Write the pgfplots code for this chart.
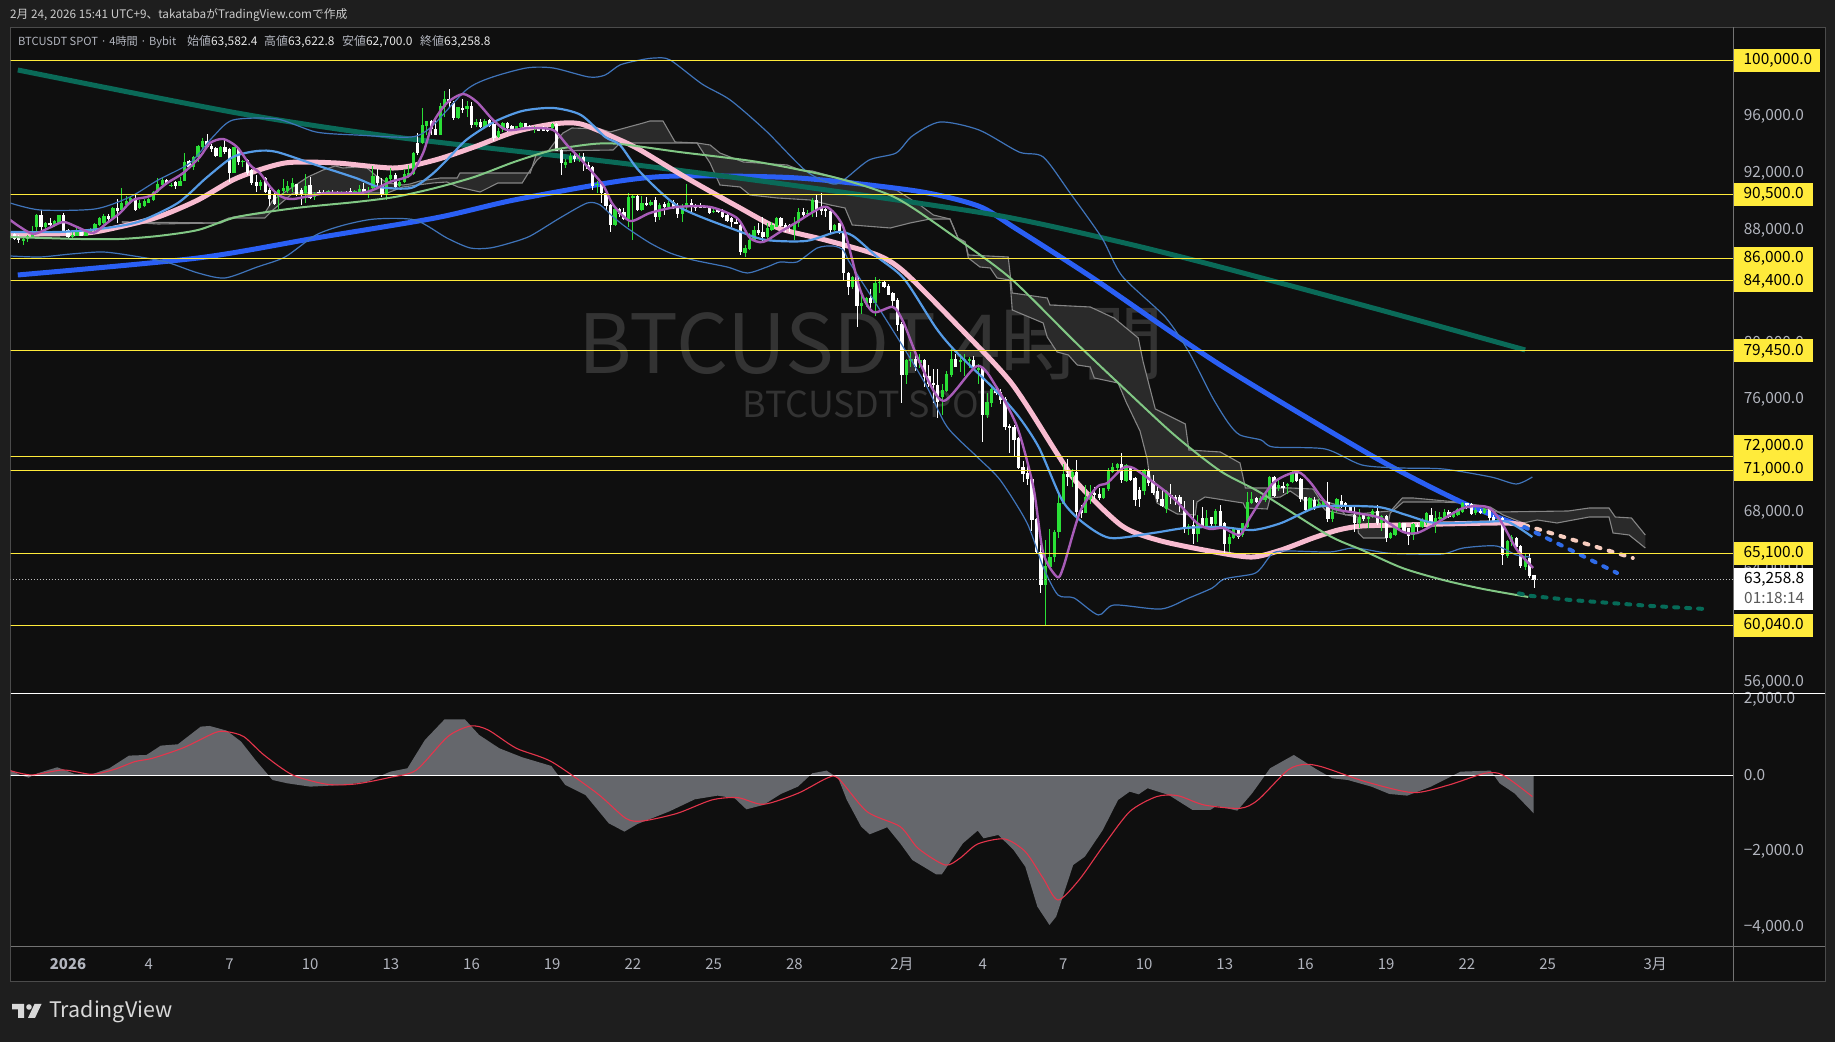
\documentclass[border=0pt]{standalone}
\usepackage{fontspec}
\setmainfont{Noto Sans CJK JP}
\usepackage{pgfplots}
\usepackage{pgfplotstable}
\pgfplotsset{compat=1.18}
\pgfplotsset{ml/.style={smooth,tension=0.45,forget plot}}
\definecolor{pagebg}{HTML}{1E1E1E}
\definecolor{panelbg}{HTML}{0F0F0F}
\definecolor{cgreen}{HTML}{2ADF36}
\definecolor{ylw}{HTML}{FFEB3B}
\definecolor{tk}{HTML}{B2B5BE}
\definecolor{dkgreen}{HTML}{0A6A58}
\definecolor{thblue}{HTML}{2A5FF5}
\definecolor{pinkma}{HTML}{F8BBD0}
\definecolor{greenma}{HTML}{81C784}
\definecolor{skyma}{HTML}{559BE6}
\definecolor{bbblue}{HTML}{3F74BA}
\definecolor{purp}{HTML}{A85CB8}
\definecolor{cloudl}{HTML}{858585}
\definecolor{cloudf}{HTML}{2A2A2A}
\definecolor{wm}{HTML}{333333}
\definecolor{hist}{HTML}{65676C}
\definecolor{sig}{HTML}{E5354C}
\definecolor{pkdash}{HTML}{F7CDBF}
\definecolor{bldash}{HTML}{2F6BE8}
\definecolor{grdash}{HTML}{066B58}

\pgfplotstableread{
k h t b l
-13 88210 87700 87300 86938
-10 87529 87387 87246 86916
-9 87646 87599 87340 87175
-8 88283 87717 87482 87482
-7 89131 89060 88236 87953
-5 88589 88518 88188 88047
-3 88707 88660 88353 88236
-2 89060 89037 88518 88518
1 87882 87646 87529 87340
2 88118 87882 87576 87576
4 88000 87882 87599 87576
5 88118 88047 87882 87811
6 88471 88424 88000 87953
7 88896 88872 88353 88283
8 89108 88990 88471 88424
10 89603 89556 88825 88754
12 90946 89933 89414 89367
13 90404 90051 89791 89603
14 90404 90286 89886 89838
16 90121 89909 89532 89461
17 90168 90074 89697 89650
18 90239 90168 89933 89886
19 90781 90687 90121 90074
20 91653 91229 90663 90593
21 91771 91535 91182 91111
23 91300 91182 91135 91017
25 91771 91488 91135 91111
26 93468 92832 91488 91441
28 93232 93185 92431 92243
29 94010 93940 93138 92832
30 94482 94317 93845 93704
34 93940 93892 93185 93138
37 93845 93845 92054 92007
39 92950 92879 92832 92478
43 91536 91418 91112 90829
47 90876 90829 90310 89462
48 91583 90947 90758 90475
49 91489 91112 90758 90593
50 91654 91300 91017 90711
53 91960 91112 90593 89886
55 90711 90475 90357 90122
58 90829 90782 90687 90546
61 90782 90711 90664 90593
64 90829 90758 90664 90546
65 91182 90876 90664 90546
67 91017 90758 90640 90240
68 92526 91819 90947 90829
71 91771 91654 90475 90122
72 92361 91889 91583 91418
74 91536 91418 91112 91017
75 92290 91960 91418 91300
76 92597 92055 91772 91654
77 93540 93469 91960 91889
79 96604 95425 94129 94082
80 95731 95708 95378 94718
83 96957 96769 94718 94718
84 97853 97263 96721 96014
87 96721 96674 95896 95826
89 97146 96769 96533 96014
91 95826 95661 95425 95307
93 95826 95731 95307 95236
96 95189 95024 94553 94482
97 95661 95590 95119 94954
100 95377 95354 95071 95024
101 95636 95589 95259 95212
104 95354 95307 95118 94882
108 95542 95495 95189 95118
111 92997 92832 92596 92360
112 93421 93232 92761 92714
114 93421 93138 93044 92832
118 91488 91253 91205 90640
122 89532 89461 88353 88283
125 90593 90357 88754 88235
126 90475 90404 90310 87293
128 90404 89885 89414 89367
130 90121 90003 89768 89697
132 89885 89768 88896 88707
134 90074 89933 89603 89461
137 89838 89650 89131 88589
138 91253 89933 89650 89296
144 89461 89367 89296 89226
151 86939 86703 86397 86114
152 87764 87293 86633 86586
153 88283 88000 87293 87246
156 88471 88118 87528 87293
157 88589 88353 88000 87953
158 88896 88825 88235 88188
162 88896 88471 88000 87293
163 89532 89296 88471 88235
165 89414 89226 89131 88943
166 90239 90121 89226 88943
171 88424 88353 88000 87953
175 84746 84699 83945 83803
177 83403 82813 82625 82059
178 83285 83167 82813 82530
180 84652 84228 82860 81918
181 84510 84345 84298 83520
187 78854 78807 77769 77109
188 79396 78854 78807 78288
190 79231 78807 78571 78217
195 77109 76685 76214 74917
196 78052 77817 76638 76567
197 79561 78854 77746 77628
199 79231 78807 78689 77981
200 79231 78854 78783 77675
201 78995 78854 78783 78217
203 78524 78217 78099 77109
205 76496 75860 74917 74682
206 77039 76732 75789 75507
218 66079 64240 62897 60068
219 66833 64853 64193 64193
220 66786 66668 64853 64547
221 69261 68671 66668 66196
222 71453 70746 68624 68624
224 71076 70910 70510 69803
227 69966 69141 68010 67963
228 69966 69377 68953 68623
231 69777 69730 69023 68953
232 71145 70980 69660 69565
233 71545 71215 70909 70791
234 71545 71451 71145 70909
236 71451 71380 70272 70202
240 71074 70980 69565 69259
245 69613 69565 68246 67963
250 67208 67067 66973 66431
252 67845 67208 66501 65959
254 68198 67656 67020 66902
256 68246 68151 67208 66973
259 66501 66266 65794 65252
260 66973 66831 66195 66124
262 67303 67255 66431 66313
263 69495 68788 66973 66902
264 69495 68953 68670 68623
266 69188 69023 68835 68670
267 69424 69330 68905 68788
268 70602 70555 69141 69094
270 70320 69966 69730 69565
272 70131 70037 69895 69330
273 71027 70909 70202 70131
277 69141 69023 68246 68198
279 68952 68622 68433 68315
280 68905 68810 68551 68480
282 68315 68080 67537 67373
283 69022 68952 68198 68080
288 68245 67726 67302 66901
290 67844 67679 67608 66901
291 68245 68150 67679 67608
293 67844 67773 67255 66736
295 66666 66548 66194 66123
296 67019 66901 66430 66359
297 67373 67302 66901 66854
300 67302 67208 66430 66076
302 67608 67490 67019 66901
303 68080 68009 67255 67137
305 68150 67608 67255 66548
306 68080 67726 67537 67255
307 68245 68080 67608 67537
309 68150 67962 67679 67608
310 68315 68245 67844 67773
311 68787 68716 68080 68009
314 68315 68198 68009 67844
316 68315 68245 67962 67915
319 67773 67726 67443 67373
321 66076 66029 64945 64780
322 66430 66265 65958 65652
325 65086 64709 64191 63955
}\upc

\pgfplotstableread{
k h t b l
-12 87953 87717 87340 87293
-11 87646 87529 87293 87104
-6 89414 89060 88236 87953
-4 88825 88471 88377 88118
-1 89226 89060 87929 87811
0 88047 88000 87482 87411
3 87882 87858 87599 87576
9 89131 89013 88801 88589
11 90192 89556 89367 88518
15 90475 90286 89414 89343
22 91582 91535 91253 91182
24 91465 91394 91111 90899
27 92950 92902 92431 92290
31 94765 94317 93892 93798
32 94081 93940 93704 93515
33 93892 93822 93232 93138
35 94482 93845 93539 93374
36 93775 93704 92054 91417
38 93775 93775 92832 92596
40 92997 92950 92007 91889
41 92290 92243 91347 91182
42 91889 91417 91111 90710
44 91725 91654 90711 90593
45 90947 90829 90169 89698
46 90593 90475 89839 89768
51 91253 91253 90475 90405
52 90947 90829 90546 89768
54 91771 91182 90287 90169
56 90829 90711 90640 90475
57 90829 90687 90640 90546
59 90829 90711 90640 90546
60 90782 90711 90640 90546
62 90782 90711 90640 90593
63 90947 90782 90640 90546
66 91300 90900 90640 90546
69 92290 91819 91300 91065
70 91654 91112 90475 90357
73 92007 91889 91065 90947
78 94836 94176 93469 93304
81 95779 95731 95119 94718
82 95779 95119 94718 94718
85 97947 97263 96957 96721
86 97146 97004 95896 95779
88 97240 96604 96533 96297
90 97075 96769 95425 95236
92 95826 95661 95307 95236
94 95826 95779 95378 95260
95 95826 95496 94482 94317
98 95661 95543 95189 94954
99 95424 95354 95071 95024
102 95589 95542 95259 95212
103 95424 95354 95259 95212
105 95307 95189 95024 95024
106 95354 95165 95024 94977
107 95307 95189 95024 94929
109 95589 95495 93609 93562
110 93704 93657 92714 91889
113 93421 93232 93044 92832
115 93421 93185 92832 92195
116 92832 92596 92289 92242
117 92525 92478 91111 90828
119 91347 91253 90640 89933
120 90710 90640 89697 89367
121 89838 89768 88353 87882
123 89532 89485 89131 88943
124 89532 89296 88754 88707
127 90475 90404 89414 89367
129 90310 89933 89768 89697
131 90310 90121 88943 88589
133 90003 89838 89603 89061
135 90121 90003 89532 89461
136 89885 89697 89131 88825
139 90168 89933 89603 89296
140 89838 89697 89603 89367
141 89885 89650 89603 89532
142 89697 89650 89603 89532
143 89697 89579 89178 89131
145 89532 89414 89273 89178
146 89461 89296 88896 88825
147 89131 89061 88636 88589
148 88896 88872 88589 88188
149 88896 88589 88424 88424
150 88401 88353 86468 86232
154 88471 88000 87764 87646
155 88896 87882 87528 87246
159 88943 88825 88283 88235
160 88471 88353 88047 87882
161 88424 88353 88283 87882
164 89532 89296 89061 88943
167 90545 90121 89414 88896
168 90593 89532 89367 89061
169 89650 89461 89367 88943
170 89414 89367 88000 87717
172 88518 88471 87811 87717
173 88235 87882 84936 84464
174 85053 84935 83992 83402
176 84746 84699 82625 81163
179 83803 83167 82813 82460
182 84369 84322 83945 83874
183 84180 84039 83426 83379
184 83638 83520 82978 82625
185 83167 83049 81281 80881
186 81517 81352 77769 75790
189 79231 78854 78288 78052
191 78854 78807 77628 76874
192 78453 77675 77109 76921
193 78146 77204 77015 75742
194 78146 77039 75860 74682
198 79231 78854 78335 78288
202 79089 78807 78217 78099
204 78335 78217 74917 73032
207 76874 76732 76449 76332
208 76732 76567 75978 75695
209 76214 76025 74045 73857
210 74281 74139 73975 72207
211 74210 74045 73150 72018
212 73338 73268 71146 71075
213 71688 71217 70746 70203
214 71453 70793 70368 69968
215 70439 70368 67493 66739
216 67611 67540 65254 65183
217 65725 65254 62897 62355
223 71783 70746 70557 69897
225 71736 70910 68082 67729
226 68552 68198 68010 67609
229 69801 69424 69259 68953
230 69730 69330 69023 68905
235 72252 71451 70320 70084
237 71310 71145 70320 70272
238 70508 70437 68905 68481
239 69801 69613 68953 68434
241 71074 70980 70131 69895
242 70673 70272 69424 69259
243 69966 69565 68953 68788
244 69613 68953 68481 68434
246 70037 69259 69094 68623
247 69259 69141 68905 68552
248 69259 69094 68623 68081
249 68858 68198 66902 66548
251 68905 67138 66501 65794
253 68434 67609 66973 66902
255 67727 67680 67208 66831
257 68552 68151 67067 67020
258 67373 67255 65794 65134
261 66902 66784 66313 66124
265 69141 69023 68788 68717
269 70602 70555 69188 69141
271 70202 69895 69801 69424
274 70980 70909 70272 70202
275 70437 70367 68953 68788
276 69141 69094 68198 68151
278 69093 68905 68433 68198
281 70201 68787 67537 67373
284 69258 68857 68433 68315
285 68787 68669 68386 68198
286 68551 68433 68080 67962
287 68433 67844 67302 66666
289 67962 67844 67537 67443
292 68551 68150 67302 67137
294 67844 67773 66194 65958
298 67302 67255 66666 66595
299 66901 66901 66359 65723
301 67255 67137 67019 66666
304 68315 67844 67302 67137
308 68198 68080 67726 67608
312 68716 68669 68551 68245
313 68716 68622 67915 67844
315 68245 68103 68033 67915
317 68315 68245 67608 67302
318 67844 67726 67373 67255
320 67679 67608 65015 64308
323 66265 66194 65558 65487
324 65723 65652 64238 64073
326 65086 64780 63531 63366
327 63622.8 63582.4 63258.8 62700
}\dnc

\newcommand{\hl}[2]{\addplot[ylw,line width=1.1bp,forget plot] coordinates {(-13,#1)(372,#1)};
  \coordinate (#2) at (axis cs:371.5,#1);}
% #1 coordinate, #2 text, #3 box width, #4 vertical shift
\newcommand{\ylab}[4]{\node[anchor=west,fill=ylw,text=black,minimum height=23bp,inner ysep=0pt,inner xsep=0pt,font=\fontsize{15.5}{18}\selectfont] at ([xshift=0.3bp,yshift=#4]#1) {\hspace{9.5bp}\makebox[#3][l]{#2}};}

\begin{document}
\begin{tikzpicture}
\fill[pagebg] (0,0) rectangle (1835bp,1042bp);
\useasboundingbox (0,0) rectangle (1835bp,1042bp);
\fill[panelbg,draw=pagebg!80!white] (10bp,60.5bp) rectangle (1825bp,1015bp);

\begin{axis}[
  at={(10.5bp,348.7bp)},anchor=south west,scale only axis,width=1723.1bp,height=666.3bp,
  xmin=-12.83,xmax=371.5,ymin=55234,ymax=102355,
  xtick=\empty,
  ytick={96000,92000,88000,80000,76000,68000,64000,56000},
  yticklabels={{96,000.0},{92,000.0},{88,000.0},{80,000.0},{76,000.0},{68,000.0},{64,000.0},{56,000.0}},
  yticklabel pos=right,scaled y ticks=false,
  y tick label style={anchor=west,inner sep=0pt,xshift=10bp,text=tk,font=\fontsize{15.5}{18}\selectfont},
  major tick length=0pt,axis line style={draw=none},tick style={draw=none},
]
\node[text=wm,font=\fontsize{82}{90}\selectfont] at (axis cs:179.1,80078) {BTCUSDT 4時間};
\node[text=wm,font=\fontsize{36}{40}\selectfont] at (axis cs:179.1,75695) {BTCUSDT SPOT};

% Ichimoku cloud: polygon of span P then span Q reversed
\addplot[fill=cloudf,draw=none,forget plot] coordinates {
(12,88565)(34.1,88494)(36.8,88918)(43.9,89201)(45.7,90120)(53.5,91747)(56.9,92242)(59.6,92525)(61.3,92383)(64.5,92454)(66.7,92383)(68.5,91888)(71.2,91323)(74.7,91181)(76.3,91252)(78.5,91464)(83,91676)(86.8,91676)(87.4,92030)(103.1,92030)(104.6,93515)(107.1,93586)(108.6,94222)(110.4,94859)(112.4,95212)(118.7,95142)(120.9,94929)(128.3,95566)(129.8,95707)(132.7,95707)(135.4,94222)(140.3,94152)(143.2,94010)(145.4,93444)(150.6,92808)(160.4,92596)(163.3,92242)(166,92171)(172.4,91606)(184.7,90828)(190,89767)(193,89060)(196.7,88777)(198.5,87433)(200.1,87150)(200.8,86231)(209.7,86089)(210.6,83543)(218.4,83190)(219,82695)(228,82553)(233.3,81775)(238.7,80361)(239.8,78664)(242.5,75340)(249.2,74279)(250,72440)(257,72299)(261.4,71521)(262.6,69753)(272.6,69753)(277.7,69682)(279.3,68904)(283.1,68551)(284.9,67844)(294.9,68126)(295.6,68339)(297.6,69046)(300,69046)(309.8,68763)(318.8,68056)(334.6,68126)(339.3,68339)(343.7,68339)(345.1,67702)(348.7,67631)(351.8,66429)
(351.8,65510)(348.2,66429)(344.6,66571)(343.7,67702)(339.3,67702)(332.1,67278)(327.7,67490)(324.6,67278)(320.1,67844)(317.2,68409)(311.2,68692)(306,68763)(297.8,68763)(294.9,67985)(293.8,66217)(288.9,66217)(287.8,66571)(287.5,67702)(283.1,67985)(280.4,68197)(278.6,68904)(275.5,68904)(272.6,69541)(270.4,69117)(268.1,69046)(267.5,68268)(262.6,68339)(262.1,68692)(259.2,68834)(253.6,69117)(251.8,68763)(251.4,67844)(247.4,67914)(242.9,68692)(241.1,70884)(240.7,71803)(239.1,73783)(236,75834)(234.2,77178)(228.9,77533)(228,78311)(225.1,78453)(223.1,79160)(220.6,79372)(218.4,80432)(217.5,81422)(210.6,82342)(210.1,84463)(207.2,84605)(205.7,85312)(203.4,85383)(200.8,86019)(200.1,87150)(198.5,87433)(196.7,88777)(192.3,88777)(187.8,88494)(183.4,88140)(174.9,88353)(173.3,89555)(170,89767)(165.5,90121)(158.2,90262)(152.1,90474)(149.9,91040)(145.4,91181)(143.2,92737)(141,93798)(140.3,94152)(123.1,94152)(121.6,93656)(107.1,93586)(104.6,92949)(103.1,92242)(101.3,91323)(95.9,91323)(91.9,90687)(87,91040)(84.5,91394)(81.4,91323)(74.7,91040)(71.2,90616)(50.2,90616)(45.7,89414)(43.9,88848)(35.9,88848)(33.2,88494)(20.1,88423)} -- cycle;
\addplot[cloudl,line width=1.1bp,forget plot] coordinates {
(12,88565)(34.1,88494)(36.8,88918)(43.9,89201)(45.7,90120)(53.5,91747)(56.9,92242)(59.6,92525)(61.3,92383)(64.5,92454)(66.7,92383)(68.5,91888)(71.2,91323)(74.7,91181)(76.3,91252)(78.5,91464)(83,91676)(86.8,91676)(87.4,92030)(103.1,92030)(104.6,93515)(107.1,93586)(108.6,94222)(110.4,94859)(112.4,95212)(118.7,95142)(120.9,94929)(128.3,95566)(129.8,95707)(132.7,95707)(135.4,94222)(140.3,94152)(143.2,94010)(145.4,93444)(150.6,92808)(160.4,92596)(163.3,92242)(166,92171)(172.4,91606)(184.7,90828)(190,89767)(193,89060)(196.7,88777)(198.5,87433)(200.1,87150)(200.8,86231)(209.7,86089)(210.6,83543)(218.4,83190)(219,82695)(228,82553)(233.3,81775)(238.7,80361)(239.8,78664)(242.5,75340)(249.2,74279)(250,72440)(257,72299)(261.4,71521)(262.6,69753)(272.6,69753)(277.7,69682)(279.3,68904)(283.1,68551)(284.9,67844)(294.9,68126)(295.6,68339)(297.6,69046)(300,69046)(309.8,68763)(318.8,68056)(334.6,68126)(339.3,68339)(343.7,68339)(345.1,67702)(348.7,67631)(351.8,66429)};
\addplot[cloudl,line width=1.1bp,forget plot] coordinates {
(12,88565)(20.1,88423)(33.2,88494)(35.9,88848)(43.9,88848)(45.7,89414)(50.2,90616)(71.2,90616)(74.7,91040)(81.4,91323)(84.5,91394)(87,91040)(91.9,90687)(95.9,91323)(101.3,91323)(103.1,92242)(104.6,92949)(107.1,93586)(121.6,93656)(123.1,94152)(140.3,94152)(141,93798)(143.2,92737)(145.4,91181)(149.9,91040)(152.1,90474)(158.2,90262)(165.5,90121)(170,89767)(173.3,89555)(174.9,88353)(183.4,88140)(187.8,88494)(192.3,88777)(196.7,88777)(198.5,87433)(200.1,87150)(200.8,86019)(203.4,85383)(205.7,85312)(207.2,84605)(210.1,84463)(210.6,82342)(217.5,81422)(218.4,80432)(220.6,79372)(223.1,79160)(225.1,78453)(228,78311)(228.9,77533)(234.2,77178)(236,75834)(239.1,73783)(240.7,71803)(241.1,70884)(242.9,68692)(247.4,67914)(251.4,67844)(251.8,68763)(253.6,69117)(259.2,68834)(262.1,68692)(262.6,68339)(267.5,68268)(268.1,69046)(270.4,69117)(272.6,69541)(275.5,68904)(278.6,68904)(280.4,68197)(283.1,67985)(287.5,67702)(287.8,66571)(288.9,66217)(293.8,66217)(294.9,67985)(297.8,68763)(306,68763)(311.2,68692)(317.2,68409)(320.1,67844)(324.6,67278)(327.7,67490)(332.1,67278)(339.3,67702)(343.7,67702)(344.6,66571)(348.2,66429)(351.8,65510)};

% 200 MA
\addplot[thblue,line width=5bp,ml] coordinates {
(-11.2,84817)(29,86019)(55.3,87433)(81.9,88847)(99.5,90121)(123.1,91464)(136.3,91818)(162.8,91676)(189.2,90757)(203,89700)(211.2,88140)(228.9,84533)(257,78451)(291.3,71945)(311.2,68692)(324.8,66995)};
% 400 MA
\addplot[dkgreen,line width=5bp,ml] coordinates {
(-11.2,99314)(37.7,96273)(72.9,94576)(123.1,92737)(162.8,91110)(206.8,89060)(234.7,87150)(257,85382)(292.7,82342)(325,79514)};
% 50 MA
\addplot[pinkma,line width=5bp,ml] coordinates {
(-12.9,87646)(-6.2,87717)(4.2,87787)(11.4,88211)(20.1,88919)(29,90121)(37.7,91676)(48.4,92737)(59.8,92737)(72.9,92383)(81.9,92949)(90.6,93870)(99.5,94929)(108.2,95495)(114.4,95495)(123.1,94364)(127.6,93656)(138,91676)(149.5,89626)(158.4,88140)(168.9,87292)(180.5,86231)(186.5,85029)(198.1,81351)(210.4,77178)(220.8,72087)(225.3,70036)(235.1,67065)(243.8,66005)(257,65156)(264.3,64873)(270.6,65369)(277.7,66217)(283.3,66783)(288.6,67065)(297.6,67136)(306.7,67207)(320.3,67278)(324.8,67136)};

% candles
\addplot[draw=none,forget plot,error bars/.cd,y dir=both,y explicit,error mark=none,error bar style={line width=1bp,color=cgreen}]
  table[x=k,y expr={(\thisrow{h}+\thisrow{l})/2},y error expr={(\thisrow{h}-\thisrow{l})/2}] {\upc};
\addplot[draw=none,forget plot,error bars/.cd,y dir=both,y explicit,error mark=none,error bar style={line width=3.3bp,color=cgreen}]
  table[x=k,y expr={(\thisrow{t}+\thisrow{b})/2},y error expr={(\thisrow{t}-\thisrow{b})/2}] {\upc};
\addplot[draw=none,forget plot,error bars/.cd,y dir=both,y explicit,error mark=none,error bar style={line width=1bp,color=white}]
  table[x=k,y expr={(\thisrow{h}+\thisrow{l})/2},y error expr={(\thisrow{h}-\thisrow{l})/2}] {\dnc};
\addplot[draw=none,forget plot,error bars/.cd,y dir=both,y explicit,error mark=none,error bar style={line width=3.3bp,color=white}]
  table[x=k,y expr={(\thisrow{t}+\thisrow{b})/2},y error expr={(\thisrow{t}-\thisrow{b})/2}] {\dnc};

% Bollinger upper / lower
\addplot[bbblue,line width=1.2bp,ml] coordinates {
(-12.9,89907)(-6.2,89413)(6,89484)(13.8,90333)(20.1,91535)(27.2,92737)(32.3,94576)(36.8,95778)(46.6,95849)(55.3,94929)(64.2,94717)(76.5,94576)(81,95283)(88.8,97900)(94.1,98752)(102.2,99455)(108.2,99455)(116.2,98817)(119.8,98959)(123.1,99667)(127.6,100021)(130.9,100163)(134.3,100021)(141.4,98324)(147.7,97192)(155.7,95000)(164.6,92170)(170.6,91254)(173.3,91607)(178.7,92949)(184.7,93445)(188.3,94646)(194.5,95636)(203.2,95070)(212.1,93515)(217.5,93161)(223.5,90616)(230.6,87433)(235.1,84746)(244.7,81846)(250,79372)(255.2,76189)(258.8,74350)(261.4,73501)(266.1,73147)(268.8,72652)(280.4,72511)(288.6,71379)(297.6,71167)(306.7,71097)(317.4,70531)(323,70036)(326.6,70531)};
\addplot[bbblue,line width=1.2bp,ml] coordinates {
(-12.9,86160)(-6.2,86090)(0.7,86302)(7.8,86443)(14.7,86160)(21.9,85736)(29,84958)(35,84605)(42.2,85383)(48.4,86090)(55.3,87646)(61.6,88353)(68.5,88777)(77.4,88706)(84.5,87433)(89.7,86726)(94.1,86726)(98.6,87079)(103.1,87575)(109.7,88847)(115.8,89907)(118.7,89766)(121.6,88919)(124.7,88140)(129.8,87079)(134.3,86372)(139.4,85877)(147,85383)(151.5,84958)(155.9,85383)(158.8,85736)(162.6,85736)(167.1,86726)(170.6,86868)(172.9,86585)(174.4,85665)(181.1,82341)(186.7,79512)(191.6,76896)(196.1,74067)(202.8,71945)(207.9,70319)(213.9,67278)(217.5,64166)(220.8,62186)(224.4,61974)(229.8,60772)(233.3,61479)(243.8,61196)(250,61974)(255.2,62681)(257.9,63318)(264.3,63671)(266.1,64096)(268.8,65157)(272.4,65298)(281.5,65228)(286.9,65511)(294,65157)(299.6,65086)(306.7,65086)(311.2,65511)(318.5,65653)(323,65016)(326.1,64873)};
% 100 MA
\addplot[greenma,line width=2bp,ml] coordinates {
(-12.9,87504)(2.5,87363)(11.6,87363)(20.1,87575)(29,87999)(37.7,88919)(50.9,89555)(64.2,89979)(72.9,90333)(81.9,90969)(90.6,91747)(99.5,92808)(108.2,93656)(117.1,94081)(123.1,94081)(136.3,93515)(153.9,92808)(171.5,91676)(184.7,90262)(198.1,87433)(210.4,84534)(224.4,80149)(233.3,77461)(246.5,73571)(257,70955)(266.1,69400)(281,66429)(288.6,65369)(297.6,64096)(306.7,63247)(315.6,62611)(325.7,62045)};
% 20 MA
\addplot[skyma,line width=2.2bp,ml] coordinates {
(-12.9,87858)(-2,87858)(6.9,88070)(15.6,88565)(24.5,89909)(30.8,91676)(36.8,93161)(42.2,93586)(46.6,93515)(55.3,92595)(64.2,91676)(69.4,91040)(76.5,90969)(81,91888)(84.5,92949)(88.8,94364)(95,95636)(101.3,96414)(108.2,96627)(114.4,96132)(119.8,94576)(123.1,94010)(127.6,92099)(136.3,89626)(149.5,87929)(155.7,87292)(164.6,87221)(171.5,87858)(175.1,87575)(180.5,86090)(186.5,84534)(193.6,81069)(198.1,79372)(206.8,76685)(212.1,74776)(216.6,72583)(221.7,68905)(226.2,67349)(232.4,66217)(242,66571)(249.2,66925)(257,66995)(264.3,66783)(270.6,67278)(276.8,68197)(280.4,68480)(292.2,68409)(298.5,67844)(304.9,67278)(315.6,67349)(321.2,67349)(326.6,66288)};
% purple
\addplot[purp,line width=2.4bp,ml] coordinates {
(-12.9,88706)(-10.7,88211)(-7.8,87717)(-4.7,88070)(-1.1,88565)(2,88211)(5.6,87787)(8.7,88494)(11.6,89202)(14.5,90121)(18.3,90404)(22.1,91323)(25.7,92030)(29.4,93161)(31.7,94151)(34.6,94434)(37.7,93868)(40.6,92595)(42.8,92030)(45.1,91040)(47.3,90404)(50.2,90191)(57.8,90616)(65.1,90616)(68,90828)(71.8,91394)(76.3,91888)(79.2,93445)(81.4,95565)(84.5,96979)(88.1,97617)(91.2,97051)(94.8,95778)(97.9,95071)(103.1,95212)(108.2,95071)(111.3,94010)(114.9,92808)(119.3,91183)(121.6,89767)(125.4,88636)(129.8,89202)(135.8,89626)(143.2,89626)(149.2,88848)(152.1,87432)(155,87150)(158.8,87858)(162.6,88565)(166.2,89273)(169.3,89626)(172.9,88211)(176.7,83756)(179.6,82200)(184,82554)(186.3,81493)(190,78594)(195.2,75907)(202.8,78382)(207.2,76826)(211.7,74067)(215.3,69824)(217.5,65157)(220.6,63460)(222,64167)(225.7,68056)(229.5,69824)(231.8,70107)(235.3,71168)(237.6,71168)(242,70178)(246.5,69046)(251.8,67278)(254.7,66854)(257.6,66925)(261.4,66429)(263.7,67702)(268.8,70107)(274.1,70885)(277,70178)(281.5,68410)(287.5,67986)(292.7,67632)(297.8,66642)(300.9,66571)(304.5,67137)(311.2,68339)(316.5,68410)(319.4,67490)(323.2,65369)(326.8,64096)};

% projection dashes
\addplot[pkdash,line width=4bp,line cap=round,dash pattern=on 4bp off 8.6bp,forget plot] coordinates {(324.8,67136)(349,64803)};
\addplot[bldash,line width=4bp,line cap=round,dash pattern=on 4bp off 8.6bp,forget plot] coordinates {(324.8,66995)(345.5,63742)};
\addplot[grdash,line width=4bp,line cap=round,dash pattern=on 4bp off 8bp,forget plot] coordinates {(323.6,62300)(326.3,62121)(334.9,61838)(343.8,61626)(352.8,61414)(364.8,61202)};

% last price
\addplot[white!75!black,line width=0.9bp,dash pattern=on 1bp off 2bp,forget plot] coordinates {(-13,63258.8)(372,63258.8)};
% levels
\hl{100000}{L100}
\hl{90500}{L905}
\hl{86000}{L860}
\hl{84400}{L844}
\hl{79450}{L794}
\hl{72000}{L720}
\hl{71000}{L710}
\hl{65100}{L651}
\hl{60040}{L600}
\end{axis}

\begin{axis}[
  at={(10.5bp,95.7bp)},anchor=south west,scale only axis,width=1723.1bp,height=253bp,
  xmin=-12.83,xmax=371.5,ymin=-4500,ymax=2158,
  xtick={0,18,36,54,72,90,108,126,144,162,186,204,222,240,258,276,294,312,330,354},
  xticklabels={{\bfseries 2026},4,7,10,13,16,19,22,25,28,{2月},4,7,10,13,16,19,22,25,{3月}},
  ytick={2000,0,-2000,-4000},
  yticklabels={{2,000.0},{0.0},{−2,000.0},{−4,000.0}},
  yticklabel pos=right,scaled y ticks=false,
  y tick label style={anchor=west,inner sep=0pt,xshift=10bp,text=tk,font=\fontsize{15.5}{18}\selectfont},
  x tick label style={anchor=center,inner sep=0pt,yshift=-17.5bp,text=tk,font=\fontsize{15}{18}\selectfont},
  major tick length=0pt,axis line style={draw=none},tick style={draw=none},
]
\addplot[fill=hist,draw=none,forget plot] coordinates {
(-12.9,0)(-12.9,140)(-10.7,9)(-8.8,-61)(-6.8,53)(-2.4,211)(1.5,35)(5.3,26)(9.2,184)(13.6,518)(17.5,535)(20.7,781)(24.5,816)(29.6,1281)(31.6,1298)(35.4,1175)(38.6,886)(41.8,404)(45.6,-123)(48.9,-211)(54,-298)(61.7,-254)(66.8,-167)(69.3,-35)(71.9,96)(75.7,184)(79.6,930)(84,1474)(88.5,1474)(91.7,1061)(96.2,711)(101.3,474)(107.8,246)(110.9,-254)(115.4,-518)(120.6,-1263)(124.1,-1482)(127,-1281)(134,-956)(139.8,-632)(144.9,-535)(148.7,-605)(151.3,-895)(155.1,-781)(159,-491)(162.8,-298)(166,53)(169.2,123)(171.8,-79)(173.7,-649)(176.9,-1351)(178.8,-1553)(182.7,-1368)(185.6,-1789)(188.3,-2228)(193.6,-2605)(194.9,-2605)(199.6,-1789)(202.9,-1456)(204.2,-1658)(207.5,-1570)(210.9,-1965)(213.5,-2404)(216.2,-3456)(218.9,-3939)(220.4,-3719)(224.2,-2360)(226.8,-2140)(230.8,-1439)(234.2,-649)(236.8,-430)(238.8,-500)(240.8,-342)(245.5,-518)(250.8,-912)(254.8,-912)(256.1,-807)(260.8,-930)(264.1,-474)(268.1,184)(273.4,535)(278.7,140)(282,-79)(285.4,-123)(290.7,-298)(294.7,-491)(298.7,-535)(304,-298)(310.6,96)(317.3,123)(319.3,-211)(322.6,-474)(326.9,-1000)(326.9,0)} -- cycle;
\addplot[white,line width=1.2bp,forget plot] coordinates {(-13,0)(372,0)};
\addplot[sig,line width=1.1bp,ml] coordinates {
(-12.9,123)(-8.1,9)(-1.1,140)(5.3,26)(10.4,158)(14.9,360)(18.8,447)(25.8,728)(32.8,1123)(35.4,1149)(39.2,1018)(43.7,535)(50.1,9)(57.8,-237)(64.2,-228)(71.9,-53)(77.7,140)(84.7,1018)(89.8,1298)(93.7,1193)(100,711)(107.8,360)(118,-474)(124.4,-1132)(128.2,-1202)(135.9,-1000)(143.6,-649)(149.4,-588)(155.1,-763)(162.8,-474)(169.2,-79)(171.8,-79)(178.2,-956)(185.6,-1351)(189.6,-1921)(195.6,-2360)(198.9,-2184)(202.9,-1807)(208.9,-1675)(213.5,-2009)(217.5,-2711)(220.8,-3281)(225.5,-2754)(230.8,-1877)(236.8,-956)(242.8,-561)(247.5,-535)(253.4,-781)(261.4,-868)(265.4,-649)(272.1,140)(276,289)(280,211)(289.4,-167)(300,-456)(308,-254)(316,53)(320,9)(326.6,-561)};
\end{axis}

% frame lines
\draw[white,line width=1.2bp] (10.5bp,348.7bp) -- (1825bp,348.7bp);
\draw[white!45!black,line width=1bp] (10.5bp,95.7bp) -- (1825bp,95.7bp);
\draw[white!45!black,line width=1bp] (1733.6bp,60.5bp) -- (1733.6bp,1015bp);

% level labels
\ylab{L100}{100,000.0}{76.5bp}{0bp}
\ylab{L905}{90,500.0}{69.5bp}{0bp}
\ylab{L860}{86,000.0}{69.5bp}{0bp}
\ylab{L844}{84,400.0}{69.5bp}{0bp}
\ylab{L794}{79,450.0}{69.5bp}{0bp}
\ylab{L720}{72,000.0}{69.5bp}{10bp}
\ylab{L710}{71,000.0}{69.5bp}{0.5bp}
\ylab{L651}{65,100.0}{69.5bp}{0bp}
\ylab{L600}{60,040.0}{69.5bp}{0bp}
\fill[white] (1734bp,432bp) rectangle (1813bp,474bp);
\node[anchor=west,inner sep=0pt,text=black,font=\fontsize{15.5}{18}\selectfont] at (1744bp,463bp) {63,258.8};
\node[anchor=west,inner sep=0pt,text=black!65,font=\fontsize{15.5}{18}\selectfont] at (1744bp,444bp) {01:18:14};

% header
\node[anchor=west,inner sep=0pt,text=white!80!black,font=\fontsize{11.8}{14}\selectfont] at (10bp,1027bp) {2月 24, 2026 15:41 UTC+9、takatabaがTradingView.comで作成};
\node[anchor=west,inner sep=0pt,text=tk,font=\fontsize{11.2}{14}\selectfont] at (18bp,1000bp) {BTCUSDT SPOT · 4時間 · Bybit};
\node[anchor=west,inner sep=0pt,text=tk,font=\fontsize{12}{14}\selectfont] at (187bp,1000bp) {始値\textcolor{white!90!black}{63,582.4}};
\node[anchor=west,inner sep=0pt,text=tk,font=\fontsize{12}{14}\selectfont] at (264bp,1000bp) {高値\textcolor{white!90!black}{63,622.8}};
\node[anchor=west,inner sep=0pt,text=tk,font=\fontsize{12}{14}\selectfont] at (342bp,1000bp) {安値\textcolor{white!90!black}{62,700.0}};
\node[anchor=west,inner sep=0pt,text=tk,font=\fontsize{12}{14}\selectfont] at (420bp,1000bp) {終値\textcolor{white!90!black}{63,258.8}};

% logo
\fill[white!85!black] (12bp,38bp) -- (24bp,38bp) -- (24bp,24bp) -- (18bp,24bp) -- (18bp,32.5bp) -- (12bp,32.5bp) -- cycle;
\fill[white!85!black] (29bp,35bp) circle (2.8bp);
\fill[white!85!black] (34.5bp,38bp) -- (41.5bp,38bp) -- (35bp,24bp) -- (28bp,24bp) -- cycle;
\node[anchor=west,inner sep=0pt,text=white!85!black,font=\fontsize{21.5}{24}\selectfont] at (49bp,30bp) {TradingView};
\end{tikzpicture}
\end{document}
